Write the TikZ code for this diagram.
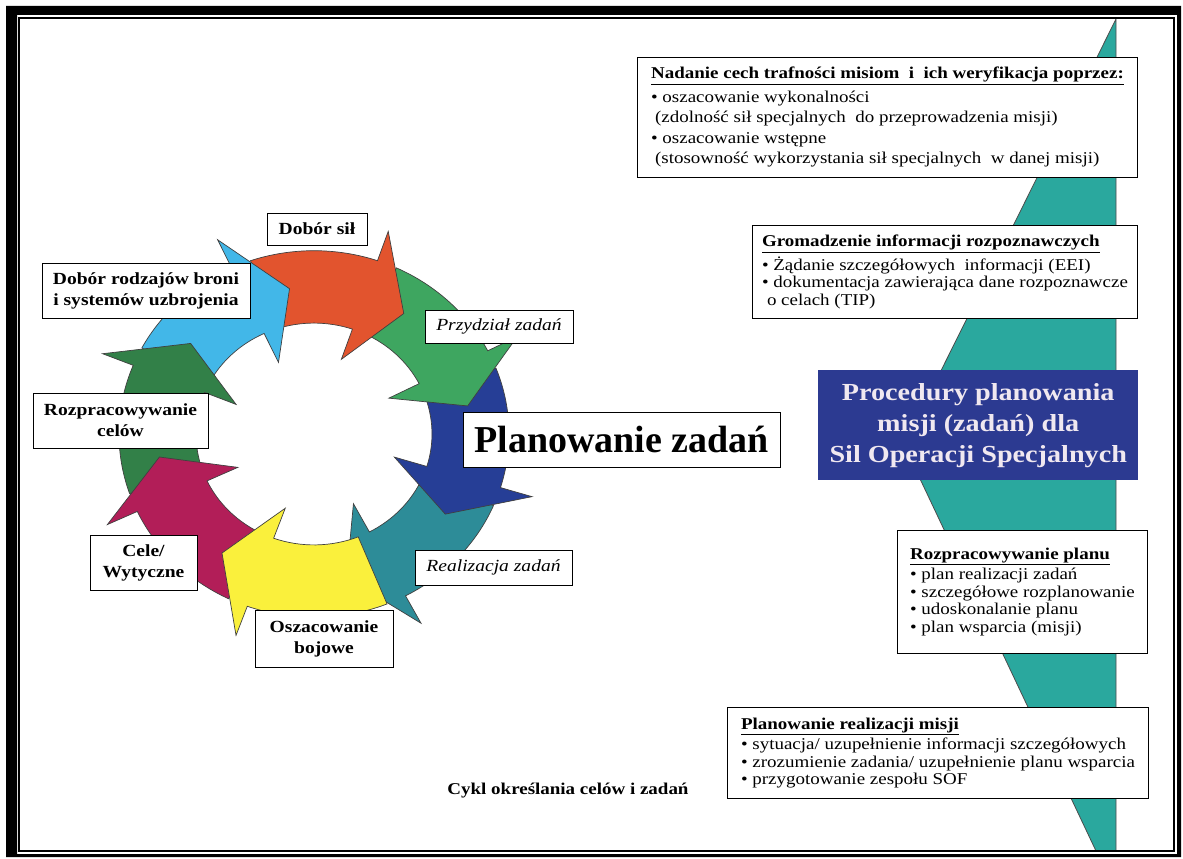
\documentclass[tikz,border=0pt]{standalone}
\usepackage{fontspec}
\setmainfont{Liberation Serif}[FakeStretch=1.15]
\newfontfamily\plainserif{Liberation Serif}

\begin{document}
\begin{tikzpicture}[
    x=1pt, y=-1pt,
    tag/.style = {rectangle, draw=black, fill=white, line width=0.9pt, align=center, inner sep=0pt, font=\bfseries\fontsize{17}{21}\selectfont},
    task/.style = {tag, font=\itshape\fontsize{17}{21}\selectfont},
    infobox/.style = {rectangle, draw=black, fill=white, line width=0.9pt, anchor=north west, align=left, inner sep=0pt, font=\fontsize{16.5}{17.5}\selectfont},
    title/.style = {rectangle, fill=titleblue, text=titletext, anchor=north west, align=center, inner sep=0pt, font=\bfseries\fontsize{24.5}{31}\selectfont},
    segment/.style = {draw=black!75, line width=0.7pt}
]
    % Colors definition
    \definecolor{ringsky}{RGB}{66,183,232}
    \definecolor{ringred}{RGB}{226,84,46}
    \definecolor{ringgreen}{RGB}{62,166,96}
    \definecolor{ringblue}{RGB}{38,62,150}
    \definecolor{ringteal}{RGB}{45,140,152}
    \definecolor{ringyellow}{RGB}{250,240,60}
    \definecolor{ringplum}{RGB}{178,30,88}
    \definecolor{ringforest}{RGB}{50,128,72}
    \definecolor{bandteal}{RGB}{42,168,158}
    \definecolor{titleblue}{RGB}{44,58,145}
    \definecolor{titletext}{RGB}{240,232,240}

    \useasboundingbox (0,0) rectangle (1183,859);

    % Teal band behind the right column
    \filldraw[fill=bandteal, draw=black!70, line width=0.8pt] (1116,19) -- (904,445) -- (1096,851) -- (1116,851) -- cycle;

    % Ring of arrows
    \begin{scope}[shift={(314,434)}, x=1pt, y=0.94pt]
        \foreach \tl/\tp/\col in {-23/-78/ringteal, 21/-33/ringblue, 65/11/ringgreen, 109/55/ringred,
                                  152/99/ringsky, 199/142/ringforest, -116/-171/ringplum, -68/-126/ringyellow} {
            \pgfmathsetmacro{\hb}{\tp+16}
            \filldraw[segment, fill=\col] (\tl:195) arc[start angle=\tl, end angle=\hb, radius=195]
                -- (\hb:228) -- (\tp:156.5) -- (\hb:84) -- (\hb:118)
                arc[start angle=\hb, end angle=\tl, radius=118] -- cycle;
        }
    \end{scope}

    % Cycle labels
    \node (sily) [tag, minimum width=100pt, minimum height=32pt] at (317,229) {Dobór sił};
    \node (bron) [tag, minimum width=208pt, minimum height=55pt] at (146,290.5) {Dobór rodzajów broni\\i systemów uzbrojenia};
    \node (przydzial) [task, minimum width=148pt, minimum height=33pt] at (499,326.5) {Przydział zadań};
    \node (celow) [tag, minimum width=175pt, minimum height=55pt] at (120.5,420.5) {Rozpracowywanie\\celów};
    \node (planzad) [tag, minimum width=317pt, minimum height=55pt, font=\plainserif\bfseries\fontsize{38}{40}\selectfont] at (621.5,439.5) {Planowanie zadań};
    \node (wytyczne) [tag, minimum width=107pt, minimum height=55pt] at (143.5,562.5) {Cele/\\Wytyczne};
    \node (realizacja) [task, minimum width=157pt, minimum height=35pt] at (493.5,567.5) {Realizacja zadań};
    \node (bojowe) [tag, minimum width=138pt, minimum height=57pt] at (324,638.5) {Oszacowanie\\bojowe};
    \node (cykl) [font=\bfseries\fontsize{16.5}{20}\selectfont] at (568,791) {Cykl określania celów i zadań};

    % Right column
    \node (nadanie) [infobox, minimum width=500pt, minimum height=120pt, font=\fontsize{16.5}{20.5}\selectfont] at (637,57)
        {\underline{\textbf{Nadanie cech trafności misiom \ i \ ich weryfikacja poprzez:}}\\[3pt]
         • oszacowanie wykonalności\\
         \hspace*{4pt}(zdolność sił specjalnych \ do przeprowadzenia misji)\\
         • oszacowanie wstępne\\
         \hspace*{4pt}(stosowność wykorzystania sił specjalnych \ w danej misji)};
    \node (gromadzenie) [infobox, minimum width=385pt, minimum height=93pt] at (752,225)
        {\underline{\textbf{Gromadzenie informacji rozpoznawczych}}\\[3pt]
         • Żądanie szczegółowych \ informacji (EEI)\\
         • dokumentacja zawierająca dane rozpoznawcze\\
         \hspace*{5pt}o celach (TIP)};
    \node (procedury) [title, minimum width=320pt, minimum height=110pt] at (818,370)
        {Procedury planowania\\misji (zadań) dla\\Sil Operacji Specjalnych};
    \node (rozplan) [infobox, minimum width=250pt, minimum height=123pt] at (897,530)
        {\underline{\textbf{Rozpracowywanie planu}}\\[3pt]
         • plan realizacji zadań\\
         • szczegółowe rozplanowanie\\
         • udoskonalanie planu\\
         • plan wsparcia (misji)};
    \node (misja) [infobox, minimum width=421pt, minimum height=91pt] at (727,707)
        {\underline{\textbf{Planowanie realizacji misji}}\\[3pt]
         • sytuacja/ uzupełnienie informacji szczegółowych\\
         • zrozumienie zadania/ uzupełnienie planu wsparcia\\
         • przygotowanie zespołu SOF};

    % Frame
    \fill[black, even odd rule] (6,6) rectangle (1181,857) (17,15) rectangle (1177,854);
    \draw[line width=1.1pt] (19,18) rectangle (1174,851);
\end{tikzpicture}
\end{document}
